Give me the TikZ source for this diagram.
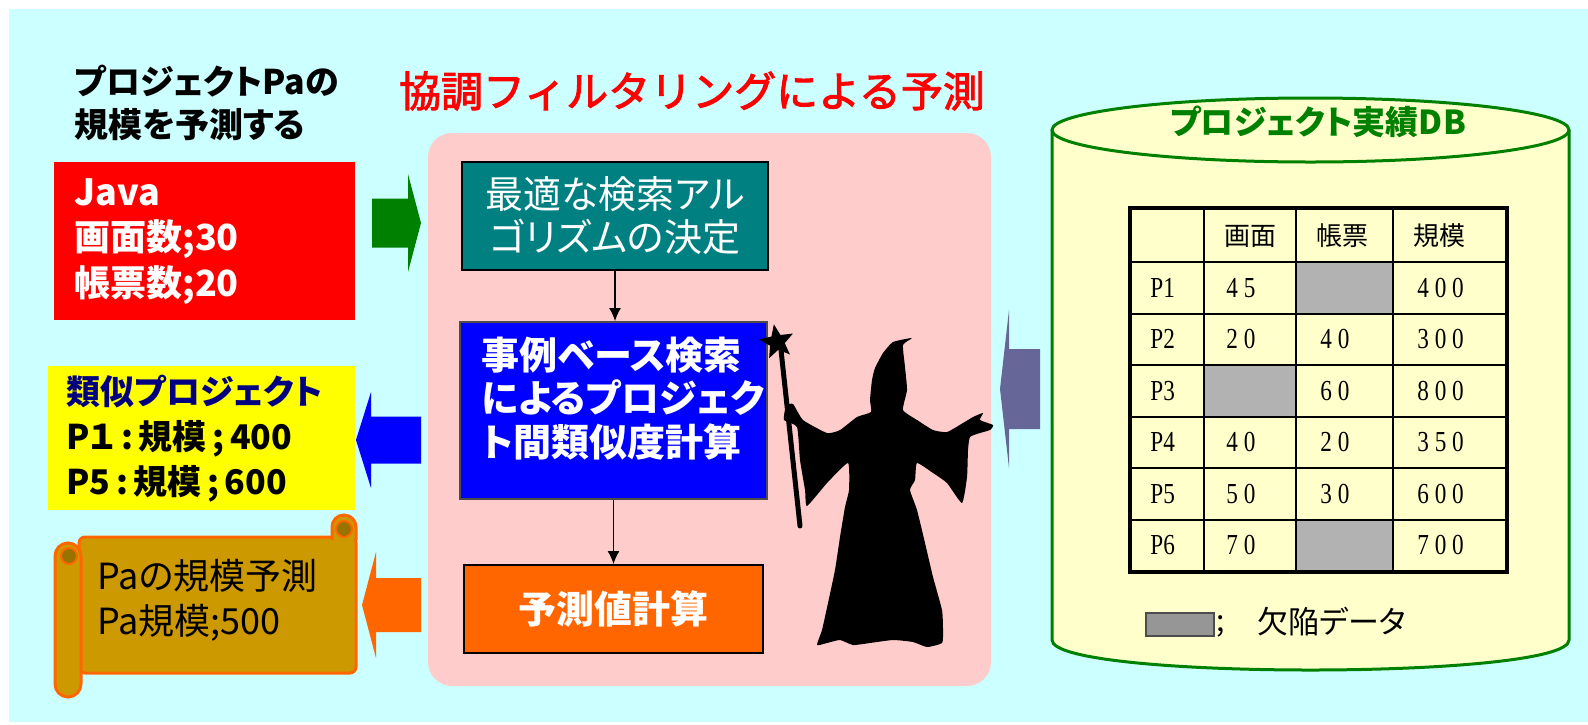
\documentclass[tikz,border=0pt]{standalone}
\usepackage{fontspec}
\setmainfont{Noto Sans CJK JP}[RawFeature=+palt]
\newfontfamily\titlefont[FakeBold=2.2]{Noto Sans CJK JP}
\newfontfamily\numfont[FakeStretch=0.8]{Liberation Serif}
\usetikzlibrary{arrows.meta,shapes.geometric}

\definecolor{bgcyan}{RGB}{204,255,255}
\definecolor{panelpink}{RGB}{255,204,204}
\definecolor{algteal}{RGB}{0,128,128}
\definecolor{caseblue}{RGB}{0,0,255}
\definecolor{calcorange}{RGB}{255,102,0}
\definecolor{inred}{RGB}{255,0,0}
\definecolor{simyellow}{RGB}{255,255,0}
\definecolor{simnavy}{RGB}{0,0,128}
\definecolor{scrollgold}{RGB}{204,153,0}
\definecolor{scrolldark}{RGB}{153,115,0}
\definecolor{dbgreen}{RGB}{0,128,0}
\definecolor{dbfill}{RGB}{255,255,204}
\definecolor{dbarrow}{RGB}{102,102,153}
\definecolor{cellgray}{RGB}{178,178,178}
\definecolor{keygray}{RGB}{150,150,150}

\tikzset{
  stepbox/.style={anchor=north west, inner sep=0pt, text=white, align=center},
  celltext/.style={inner sep=0pt, font=\fontsize{13}{15}\selectfont},
  numtext/.style={inner sep=0pt, anchor=west, font=\numfont\fontsize{14.5}{16}\selectfont},
  flow/.style={-{Latex[length=6.5pt,width=6pt]}, line width=0.6pt},
}

% fat arrow: colour, tip x, head x, tail x, mid y, shaft half, head half
\newcommand{\fatarrow}[7]{%
  \fill[#1] (#2,#5) -- (#3,#5-#7) -- (#3,#5-#6) -- (#4,#5-#6)
    -- (#4,#5+#6) -- (#3,#5+#6) -- (#3,#5+#7) -- cycle;}

\begin{document}
\begin{tikzpicture}[x=0.5pt,y=-0.5pt]
\useasboundingbox (0,0) rectangle (1588,724);
\fill[bgcyan] (9,9) rectangle (1588,722);

% left column
\path (74,102.5) node[anchor=west, inner sep=0pt, align=left, font=\bfseries\fontsize{17}{21.5}\selectfont] (goal) {プロジェクトPaの\\規模を予測する};

\path (54,162) node[anchor=north west, fill=inred, minimum width=150.5pt, minimum height=79pt, text width=130.5pt, inner xsep=10pt, align=left, text=white, font=\bfseries\fontsize{18}{22.75}\selectfont] (input) {Java\\画面数;30\\帳票数;20};

\path (48,366) node[anchor=north west, fill=simyellow, minimum width=153.5pt, minimum height=72pt, text width=135.5pt, inner xsep=9pt, align=left, font=\bfseries\fontsize{17}{22.5}\selectfont] (similar) {\textcolor{simnavy}{類似プロジェクト}\\P１\,:\,規模\,;\,400\\P5\,:\,規模\,;\,600};

% scroll
\filldraw[fill=scrollgold, draw=calcorange, line width=1.5pt, rounded corners=3pt] (79,537) rectangle (356,673);
\filldraw[fill=scrollgold, draw=calcorange, line width=1.5pt] (332,540) -- (332,527) arc[start angle=180, end angle=0, radius=6pt] -- (356,540);
\filldraw[fill=scrolldark, draw=calcorange, line width=1pt] (344,529) circle (4pt);
\filldraw[fill=scrollgold, draw=calcorange, line width=1.5pt, rounded corners=6.5pt] (55,543) rectangle (81,697);
\filldraw[fill=scrolldark, draw=calcorange, line width=1pt] (69,556) circle (4pt);
\path (97,600.5) node[anchor=west, inner sep=0pt, align=left, font=\fontsize{18}{22.5}\selectfont] (estimate) {Paの規模予測\\Pa規模;500};

% prediction panel
\path (692,91) node[text=red, font=\titlefont\fontsize{21}{24}\selectfont] (title) {協調フィルタリングによる予測};
\fill[panelpink, rounded corners=12pt] (428,133) rectangle (991,686);

\path (461,161) node[stepbox, fill=algteal, draw=black, line width=1pt, minimum width=153pt, minimum height=54pt, font=\fontsize{19}{21.5}\selectfont] (alg) {最適な検索アル\\ゴリズムの決定};
\path (459,321) node[stepbox, fill=caseblue, draw=black!70, line width=1pt, minimum width=153.5pt, minimum height=88.5pt] (case) {};
\path (481,398.5) node[anchor=west, inner sep=0pt, align=left, text=white, font=\bfseries\fontsize{19}{21.75}\selectfont] (casetext) {事例ベース検索\\によるプロジェク\\ト間類似度計算};
\path (463,564) node[stepbox, fill=calcorange, draw=black, line width=0.8pt, minimum width=149.5pt, minimum height=44pt, font=\bfseries\fontsize{19}{22}\selectfont] (calc) {予測値計算};

\draw[flow] (alg.south) -- (alg.south |- case.north);
\draw[flow] (case.south) -- (case.south |- calc.north);

\fatarrow{dbgreen}{421}{408}{372}{223}{24.5}{49}
\fatarrow{caseblue}{356}{371}{421}{440}{23.5}{48}
\fatarrow{calcorange}{362}{376}{421}{605}{27}{53}
\fatarrow{dbarrow}{1000}{1009}{1040}{389}{40}{79}

% wizard
\draw[line width=2.5pt, line cap=round] (781,350) -- (800,526);
\path (777,342) node[star, star points=5, star point ratio=2.3, fill=black, minimum size=18pt, inner sep=0pt, rotate=10] (wand) {};
\fill[black] plot[smooth cycle, tension=0.3] coordinates {
  (912,338) (903,345) (905,367) (907,390) (903,410) (917,420) (933,430)
  (947,432) (963,423) (973,417) (983,413) (980,420) (993,425) (990,430)
  (980,433) (970,437) (968,450) (967,477) (962,503) (947,483) (933,473)
  (917,463) (915,480) (910,490) (917,510) (925,543) (933,577) (942,610)
  (943,630) (942,643) (927,647) (913,642) (893,640) (870,643) (853,645)
  (840,640) (827,643) (817,645) (822,630) (828,603) (835,570) (840,537)
  (845,507) (849,490) (848,463) (827,483) (807,506) (805,490) (800,460)
  (797,427) (784,420) (786,406) (793,404) (803,420) (827,433) (840,430)
  (857,417) (871,412) (870,400) (872,380) (875,368) (883,353) (893,342)};

% project database
\filldraw[fill=dbfill, draw=dbgreen, line width=1.5pt] (1052,130) -- (1052,640) .. controls (1052,680) and (1569,680) .. (1569,640) -- (1569,130);
\filldraw[fill=dbfill, draw=dbgreen, line width=1.5pt] (1310.5,130) ellipse [x radius=258.5, y radius=32];
\path (1318,122) node[text=dbgreen, font=\bfseries\fontsize{16.5}{18}\selectfont] (dbtitle) {プロジェクト実績DB};

\foreach \x/\w/\y in {1296/97/262,1204/92/365,1296/97/519.5}
  \fill[cellgray] (\x,\y) rectangle ++(\w,51.5);
\foreach \y in {262,313.5,365,416.5,468,519.5}
  \draw[line width=1pt] (1130,\y) -- (1507,\y);
\foreach \x in {1204,1296,1393}
  \draw[line width=1pt] (\x,208) -- (\x,572);
\draw[line width=2.2pt] (1130,208) rectangle (1507,572);

\path (1250,236) node[celltext] (hscr) {画面};
\path (1342,236) node[celltext] (hfrm) {帳票};
\path (1439,236) node[celltext] (hsize) {規模};

\foreach \n/\a/\b/\c [count=\i] in {1/4 5//4 0 0,2/2 0/4 0/3 0 0,3//6 0/8 0 0,4/4 0/2 0/3 5 0,5/5 0/3 0/6 0 0,6/7 0//7 0 0}
{
  \pgfmathsetmacro{\ry}{236.25+51.5*\i}
  \path (1150,\ry) node[numtext] (p\n) {P\n};
  \path (1226,\ry) node[numtext] (s\n) {\a};
  \path (1320,\ry) node[numtext] (f\n) {\b};
  \path (1417,\ry) node[numtext] (k\n) {\c};
}

\path (1145,612) node[anchor=north west, fill=keygray, draw=black!70, line width=0.8pt, minimum width=34pt, minimum height=11.5pt, inner sep=0pt] (key) {};
\path (1216,626) node[anchor=west, inner sep=0pt, font=\fontsize{15}{18}\selectfont] (keysemi) {;};
\path (1257,622) node[anchor=west, inner sep=0pt, font=\fontsize{15.5}{18}\selectfont] (keytext) {欠陥データ};

\end{tikzpicture}
\end{document}
